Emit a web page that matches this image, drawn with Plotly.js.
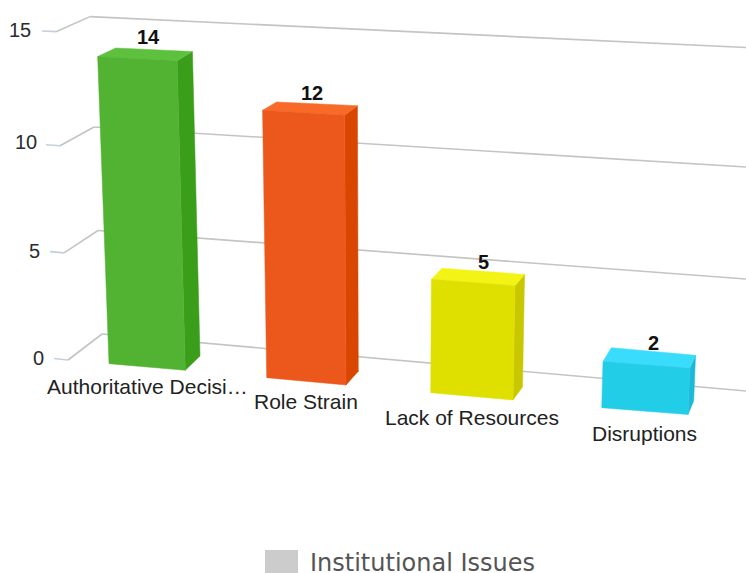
<!DOCTYPE html>
<html>
<head>
<meta charset="utf-8">
<script src="https://cdn.plot.ly/plotly-3.0.1.min.js"></script>
<style>html,body{margin:0;padding:0;background:#fff;overflow:hidden}#c{width:746px;height:573px}</style>
</head>
<body>
<div id="c"></div>
<script>
// ---- data ----
const categories = ["Authoritative Decisi\u2026", "Role Strain", "Lack of Resources", "Disruptions"];
const values = [14, 12, 5, 2];
const axisTicks = [0, 5, 10, 15];
const seriesName = "Institutional Issues";

// ---- styles ----
const frontColors = ["#52b232", "#ec581c", "#dfe000", "#22cde8"];
const sideColors  = ["#3a9e1a", "#d84600", "#c9c800", "#1fb9d8"];
const topColors   = ["#5ec13e", "#f76a28", "#f3f416", "#3adcfb"];

// ---- perspective geometry: floor (value 0) corners of each bar, in the page's frame ----
const floorFL = [[109, 363.7], [266.7, 377.7], [430.7, 392.7], [601.7, 407.7]];
const floorFR = [[185.3, 370.3], [346, 385], [513, 400], [688, 414.5]];
const floorBR = [[200, 356], [358.3, 371.3], [522.5, 387], [693.7, 401]];
const floorBL = [[126.3, 350.6], [280.3, 366], [441.1, 380], [610, 393]];
const labelDrop = [23, 24, 25, 26];
const valueNudge = [[3, -1], [0, 2], [2, 2], [-1, 0]];
const tickNudge = [[1, 0], [1, 0], [2, -2], [0, 0]];

// A floor point raised by a value: vertical edges converge, nearer points scale more.
function raise(p, v) {
  const lean = 0.00296 * (p[0] - 383);
  const unit = 21.2 + 0.025 * (p[1] - 334);
  return [p[0] + lean * v, p[1] - unit * v];
}

const traces = [];
function poly(pts, color) {
  traces.push({
    type: "scatter", mode: "lines", fill: "toself", fillcolor: color,
    x: pts.map(p => p[0]).concat(pts[0][0]),
    y: pts.map(p => p[1]).concat(pts[0][1]),
    line: {color: color, width: 0.5}, hoverinfo: "skip", showlegend: false
  });
}
function line(pts, color, width) {
  traces.push({
    type: "scatter", mode: "lines",
    x: pts.map(p => p[0]), y: pts.map(p => p[1]),
    line: {color: color, width: width}, hoverinfo: "skip", showlegend: false
  });
}

const annotations = [];
function label(x, y, text, size, color, family, anchor, bold) {
  annotations.push({
    x: x, y: y, xref: "x", yref: "y", text: bold ? "<b>" + text + "</b>" : text,
    showarrow: false, xanchor: anchor || "center", yanchor: "middle",
    font: {size: size, color: color, family: family || "Liberation Sans, Arial, sans-serif"}
  });
}

// ---- wall grid and axis ticks ----
const gridHeight = v => v + Math.max(0, v - 10) * 0.0665;
axisTicks.forEach((v, i) => {
  const h = gridHeight(v);
  const left = [102 - 0.8 * v, 334 - 20.7 * h];
  const right = [746, 391 - 22.4 * h];
  const mid = [left[0] - 34, left[1] + 26 - 0.73 * v];
  const end = [left[0] - 48, left[1] + 24.5 - 0.67 * v];
  line([left, right], "#c4c4c4", 1.6);
  line([mid, left], "#c4c4c4", 1.6);
  line([end, mid], "#c3d0de", 1.6);
  label(end[0] - 9 + tickNudge[i][0], end[1] - 1 + tickNudge[i][1], String(v), 20, "#2b2b2b", null, "right");
});

// ---- bars ----
values.forEach((v, i) => {
  const fl = floorFL[i], fr = floorFR[i], br = floorBR[i], bl = floorBL[i];
  const tfl = raise(fl, v), tfr = raise(fr, v), tbr = raise(br, v), tbl = raise(bl, v);
  poly([fr, br, tbr, tfr], sideColors[i]);
  poly([tfl, tfr, tbr, tbl], topColors[i]);
  poly([fl, fr, tfr, tfl], frontColors[i]);
  label((tfl[0] + tfr[0]) / 2 + 8.5 + valueNudge[i][0], tfl[1] - 19 + valueNudge[i][1], String(v), 20, "#111111", null, "center", true);
  label((fl[0] + fr[0]) / 2, fl[1] + labelDrop[i], categories[i], 21, "#222222");
});

// ---- legend ----
label(308, 563, seriesName, 24, "#555555", "DejaVu Sans, Verdana, sans-serif", "left");

const layout = {
  width: 746, height: 573,
  margin: {l: 0, r: 0, t: 0, b: 0},
  paper_bgcolor: "#ffffff", plot_bgcolor: "#ffffff",
  showlegend: false,
  xaxis: {range: [0, 746], visible: false, fixedrange: true},
  yaxis: {range: [573, 0], visible: false, fixedrange: true},
  annotations: annotations,
  shapes: [{type: "rect", xref: "x", yref: "y", x0: 265, x1: 298, y0: 550, y1: 573,
            fillcolor: "#cccccc", line: {width: 0}}]
};
Plotly.newPlot("c", traces, layout, {displayModeBar: false, staticPlot: true});
</script>
</body>
</html>
